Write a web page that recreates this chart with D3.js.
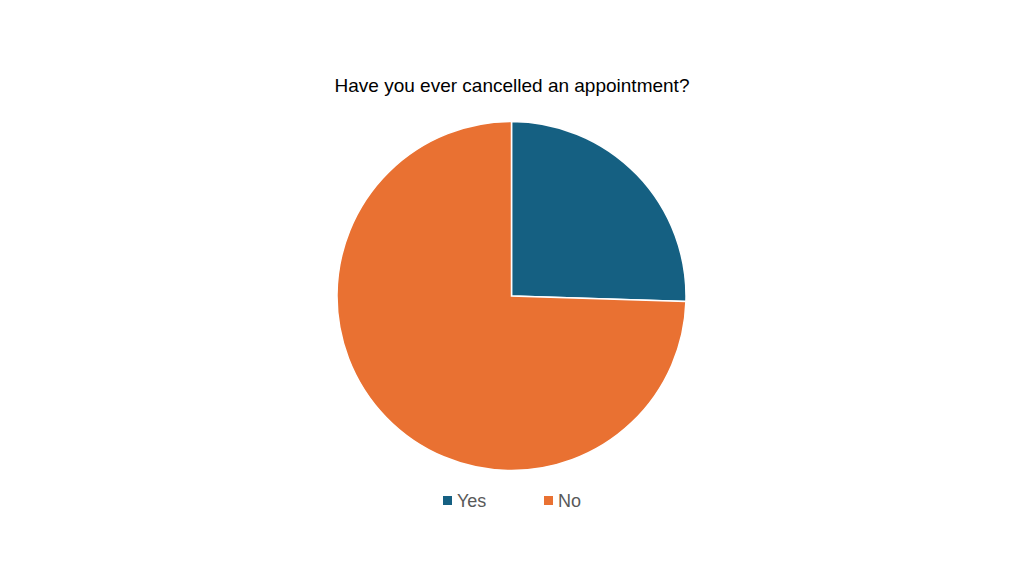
<!DOCTYPE html>
<html lang="en">
<head>
<meta charset="UTF-8">
<title>Pie</title>
<script src="https://d3js.org/d3.v7.min.js"></script>
<style>
	body{margin:0;background:#fff}
	svg{display:block}
</style>
</head>
<body>
<svg width="1024" height="576"></svg>
<script>
var categories = ["Yes", "No"]
var values = [25.5, 74.5]
var colors = ["#156082", "#E97132"]

var svg = d3.select("svg")
var cx = 511.5, cy = 296, r = 174.5

svg.append("text")
	.attr("x", 512).attr("y", 92)
	.attr("text-anchor", "middle")
	.attr("font-family", "Liberation Sans, Arial, sans-serif")
	.attr("font-size", 19)
	.attr("fill", "#000")
	.text("Have you ever cancelled an appointment?")

var pie = d3.pie().sort(null).value(function(d){ return d })
var arc = d3.arc().innerRadius(0).outerRadius(r)

var g = svg.append("g").attr("transform", "translate(" + cx + "," + cy + ")")
g.selectAll("path")
	.data(pie(values))
	.enter()
	.append("path")
	.attr("d", arc)
	.attr("fill", function(d, i){ return colors[i] })
	.attr("stroke", "#fff")
	.attr("stroke-width", 1.5)

// legend
var legX = [443, 544]
var leg = svg.selectAll(".leg")
	.data(categories)
	.enter()
	.append("g")
	.attr("class", "leg")
	.attr("transform", function(d, i){ return "translate(" + legX[i] + ",496)" })
leg.append("rect")
	.attr("width", 9).attr("height", 9)
	.attr("fill", function(d, i){ return colors[i] })
leg.append("text")
	.attr("x", 14).attr("y", 10.5)
	.attr("font-family", "Liberation Sans, Arial, sans-serif")
	.attr("font-size", 18)
	.attr("fill", "#595959")
	.text(function(d){ return d })
</script>
</body>
</html>
